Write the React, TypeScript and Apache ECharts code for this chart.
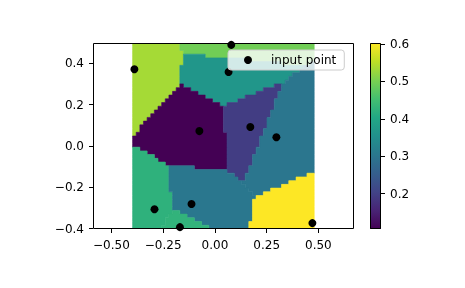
import React, { useEffect, useRef } from 'react';
import * as echarts from 'echarts';

// input points and their values
const pointX = [-0.389, 0.079, 0.066, -0.075, 0.171, 0.297, -0.292, -0.113, -0.169, 0.471];
const pointY = [0.371, 0.489, 0.358, 0.072, 0.092, 0.042, -0.306, -0.281, -0.3925, -0.373];
const pointZ = [0.535, 0.495, 0.364, 0.105, 0.194, 0.3, 0.423, 0.303, 0.427, 0.603];

const xTicks = [-0.5, -0.25, 0, 0.25, 0.5];
const yTicks = [-0.4, -0.2, 0, 0.2, 0.4];
const cbTicks = [0.2, 0.3, 0.4, 0.5, 0.6];
const GRID_N = 50;

const VIRIDIS = ['#440154', '#482475', '#414487', '#355f8d', '#2a788e', '#21918c', '#22a884', '#44bf70', '#7ad151', '#bddf26', '#fde725'];

function hexToRgb(h: string) {
  return [parseInt(h.slice(1, 3), 16), parseInt(h.slice(3, 5), 16), parseInt(h.slice(5, 7), 16)];
}
function viridis(t: number) {
  const tt = Math.max(0, Math.min(1, t)) * (VIRIDIS.length - 1);
  const i = Math.min(VIRIDIS.length - 2, Math.floor(tt));
  const f = tt - i;
  const a = hexToRgb(VIRIDIS[i]);
  const b = hexToRgb(VIRIDIS[i + 1]);
  const c = a.map((v, k) => Math.round(v + (b[k] - v) * f));
  return `rgb(${c[0]},${c[1]},${c[2]})`;
}

const FONT = 'DejaVu Sans';
const minus = (s: string) => s.replace('-', '\u2212');

export default function App() {
  const ref = useRef<HTMLDivElement>(null);
  useEffect(() => {
    if (!ref.current) return;
    const chart = echarts.init(ref.current, null, { renderer: 'svg' });

    const xmin = Math.min(...pointX), xmax = Math.max(...pointX);
    const ymin = Math.min(...pointY), ymax = Math.max(...pointY);
    const zmin = Math.min(...pointZ), zmax = Math.max(...pointZ);
    const dx = (xmax - xmin) / (GRID_N - 1);
    const dy = (ymax - ymin) / (GRID_N - 1);

    // nearest-neighbour mesh (like NearestNDInterpolator): per row, runs per input point
    const rowRuns: Map<number, [number, number]>[] = [];
    for (let j = 0; j < GRID_N; j++) {
      const yc = ymin + j * dy;
      const runs = new Map<number, [number, number]>();
      for (let i = 0; i < GRID_N; i++) {
        const xc = xmin + i * dx;
        let best = Infinity;
        let k = 0;
        for (let p = 0; p < pointX.length; p++) {
          const d = (pointX[p] - xc) ** 2 + (pointY[p] - yc) ** 2;
          if (d < best) { best = d; k = p; }
        }
        const x0 = xc - dx / 2, x1 = xc + dx / 2;
        const r = runs.get(k);
        if (r) r[1] = x1; else runs.set(k, [x0, x1]);
      }
      rowRuns.push(runs);
    }
    // staircase polygons, one per region (and per contiguous block of rows)
    const polys: number[][][] = [];
    const polyZ: number[] = [];
    for (let k = 0; k < pointX.length; k++) {
      let block: { j: number; r: [number, number] }[] = [];
      const flush = () => {
        if (!block.length) return;
        const right: number[][] = [];
        const left: number[][] = [];
        for (const b of block) {
          const yb = ymin + b.j * dy - dy / 2, yt = yb + dy;
          right.push([b.r[1], yb], [b.r[1], yt]);
          left.push([b.r[0], yb], [b.r[0], yt]);
        }
        polys.push(right.concat(left.reverse()));
        polyZ.push(pointZ[k]);
        block = [];
      };
      for (let j = 0; j < GRID_N; j++) {
        const r = rowRuns[j].get(k);
        if (r) block.push({ j, r }); else flush();
      }
      flush();
    }

    const gradStops = VIRIDIS.map((c, i) => ({ offset: i / (VIRIDIS.length - 1), color: c }));
    const tick = { show: true, length: 4, lineStyle: { color: '#000', width: 1 } };

    chart.setOption({
      animation: false,
      textStyle: { fontFamily: FONT },
      grid: [
        { left: 93, top: 43, width: 261, height: 186, containLabel: false, outerBoundsMode: 'none' },
        { left: 370, top: 43, width: 11, height: 186, containLabel: false, outerBoundsMode: 'none' },
      ],
      xAxis: [
        {
          type: 'value', gridIndex: 0, min: -0.589, max: 0.672, position: 'bottom',
          axisLine: { show: false, onZero: false },
          splitLine: { show: false },
          axisTick: { ...tick, customValues: xTicks },
          axisLabel: {
            customValues: xTicks, color: '#000', fontSize: 12, fontFamily: FONT, margin: 10,
            formatter: (v: number) => minus(v.toFixed(2)),
          },
        },
        { type: 'value', gridIndex: 1, min: 0, max: 1, show: false },
      ],
      yAxis: [
        {
          type: 'value', gridIndex: 0, min: -0.4015, max: 0.498, position: 'left',
          axisLine: { show: false, onZero: false },
          splitLine: { show: false },
          axisTick: { ...tick, customValues: yTicks },
          axisLabel: {
            customValues: yTicks, color: '#000', fontSize: 12, fontFamily: FONT, margin: 9,
            formatter: (v: number) => minus((Math.abs(v) < 1e-9 ? 0 : v).toFixed(1)),
          },
        },
        {
          type: 'value', gridIndex: 1, min: zmin, max: zmax, position: 'right',
          axisLine: { show: false, onZero: false },
          splitLine: { show: false },
          axisTick: { ...tick, customValues: cbTicks },
          axisLabel: {
            customValues: cbTicks, color: '#000', fontSize: 12, fontFamily: FONT, margin: 9,
            formatter: (v: number) => v.toFixed(1),
          },
        },
      ],
      legend: {
        left: 228, top: 50,
        data: [{ name: 'input point', icon: 'circle', itemStyle: { color: '#000', opacity: 1 } }],
        itemWidth: 8, itemHeight: 8, itemGap: 0,
        padding: [4, 8, 4, 16],
        backgroundColor: 'rgba(255,255,255,0.8)',
        borderColor: '#cccccc', borderWidth: 1, borderRadius: 3,
        textStyle: { color: '#000', fontSize: 12, fontFamily: FONT, padding: [0, 0, 0, 14] },
        selectedMode: false,
        z: 20,
      },
      graphic: [
        { type: 'rect', z: 15, shape: { x: 93.5, y: 43.5, width: 260, height: 185 }, style: { fill: 'none', stroke: '#000', lineWidth: 1 } },
        { type: 'rect', z: 15, shape: { x: 370.5, y: 43.5, width: 10, height: 185 }, style: { fill: 'none', stroke: '#000', lineWidth: 1 } },
      ],
      series: [
        {
          type: 'custom', xAxisIndex: 0, yAxisIndex: 0,
          data: polys.map((_, i) => [i]),
          silent: true,
          clip: true,
          renderItem: (params: any, api: any) => {
            const idx = params.dataIndex;
            const color = viridis((polyZ[idx] - zmin) / (zmax - zmin));
            return {
              type: 'polygon',
              shape: { points: polys[idx].map((p) => api.coord(p)) },
              style: { fill: color, stroke: color, lineWidth: 0.6 },
            };
          },
          z: 1,
        },
        {
          type: 'scatter', name: 'input point', xAxisIndex: 0, yAxisIndex: 0,
          data: pointX.map((x, i) => [x, pointY[i]]),
          symbol: 'circle', symbolSize: 8,
          itemStyle: { color: '#000', opacity: 1 },
          clip: true,
          z: 5,
        },
        {
          type: 'custom', xAxisIndex: 1, yAxisIndex: 1,
          data: [[0, 1]],
          silent: true,
          renderItem: (params: any, api: any) => {
            const a = api.coord([0, zmax]);
            const b = api.coord([1, zmin]);
            return {
              type: 'rect',
              shape: { x: a[0], y: a[1], width: b[0] - a[0], height: b[1] - a[1] },
              style: { fill: { type: 'linear', x: 0, y: 1, x2: 0, y2: 0, colorStops: gradStops } },
            };
          },
        },
      ],
    });
    return () => chart.dispose();
  }, []);
  return <div ref={ref} style={{ position: 'fixed', left: 0, top: 0, width: 465, height: 288 }} />;
}
